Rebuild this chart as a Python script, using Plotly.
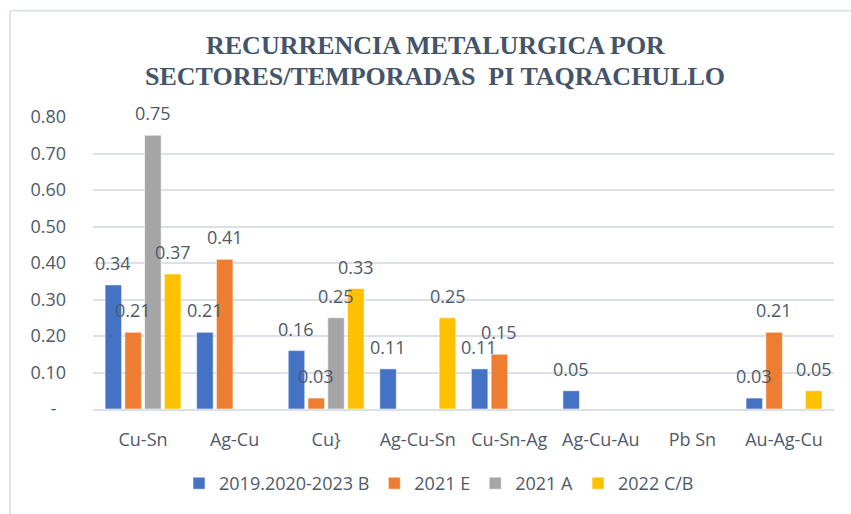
import plotly.graph_objects as go

# Metal combinations (categories)
categorias = ["Cu-Sn", "Ag-Cu", "Cu}", "Ag-Cu-Sn", "Cu-Sn-Ag", "Ag-Cu-Au", "Pb Sn", "Au-Ag-Cu"]

# Recurrence per sector / season
serie_2019_2023_b = [0.34, 0.21, 0.16, 0.11, 0.11, 0.05, 0, 0.03]
serie_2021_e = [0.21, 0.41, 0.03, 0, 0.15, 0, 0, 0.21]
serie_2021_a = [0.75, 0, 0.25, 0, 0, 0, 0, 0]
serie_2022_cb = [0.37, 0, 0.33, 0.25, 0, 0, 0, 0.05]

nombres = ["2019.2020-2023 B", "2021 E", "2021 A", "2022 C/B"]
series = [serie_2019_2023_b, serie_2021_e, serie_2021_a, serie_2022_cb]
colores = ["#4472C4", "#ED7D31", "#A5A5A5", "#FFC000"]

y_ticks = [0, 0.1, 0.2, 0.3, 0.4, 0.5, 0.6, 0.7, 0.8]
y_ticktext = ["-\u00a0\u00a0", "0.10", "0.20", "0.30", "0.40", "0.50", "0.60", "0.70", "0.80"]

titulo = ["RECURRENCIA METALURGICA POR", "SECTORES/TEMPORADAS  PI TAQRACHULLO"]

TEXT = "#4F5A69"
FONT = "Open Sans"
GRID = "#DCE0E8"
TITLE_FONT = dict(family="Liberation Serif", size=26, color="#44546A", weight="bold")

fig = go.Figure()
for nombre, valores, color in zip(nombres, series, colores):
    fig.add_trace(go.Bar(
        name=nombre,
        x=categorias,
        y=valores,
        marker=dict(color=color, line=dict(color="rgba(255,255,255,0.55)", width=1)),
        hoverinfo="x+y+name",
    ))

# Value labels above each non-zero bar, offset to its slot in the group
BARGAP = 0.136
n = len(series)
slot_px = 741 / len(categorias) * (1 - BARGAP) / n
annotations = []
for i, valores in enumerate(series):
    for cat, v in zip(categorias, valores):
        if v > 0:
            annotations.append(dict(
                x=cat, y=v, xref="x", yref="y",
                text=f"{v:.2f}", showarrow=False,
                xshift=(i - (n - 1) / 2) * slot_px, yshift=22,
                yanchor="middle", xanchor="center",
                font=dict(family=FONT, size=18, color=TEXT),
            ))

# Two-line chart title
for linea, y_paper in zip(titulo, [1.245, 1.140]):
    annotations.append(dict(
        x=(435 - 93) / 741, y=y_paper, xref="paper", yref="paper",
        text=linea, showarrow=False, xanchor="center", yanchor="middle",
        font=TITLE_FONT,
    ))

# Light frame along the top and left edges of the chart area
frame = dict(color="#DEE3EC", width=2)
shapes = [
    dict(type="line", xref="paper", yref="paper", x0=-0.112, y0=1.364, x1=1.03, y1=1.364, line=frame),
    dict(type="line", xref="paper", yref="paper", x0=-0.112, y0=1.364, x1=-0.112, y1=-0.36, line=frame),
]

fig.update_layout(
    width=851, height=514,
    margin=dict(l=93, r=17, t=117, b=103),
    paper_bgcolor="white", plot_bgcolor="white",
    barmode="group", bargap=BARGAP, bargroupgap=0.165,
    font=dict(family=FONT, size=18, color=TEXT),
    xaxis=dict(
        showgrid=False, showline=True, linecolor=GRID, linewidth=1.5,
        ticks="", ticklabelstandoff=14,
        tickfont=dict(family=FONT, size=18, color=TEXT),
    ),
    yaxis=dict(
        range=[0, 0.8], tickvals=y_ticks, ticktext=y_ticktext,
        showgrid=True, gridcolor=GRID, gridwidth=1.5,
        zeroline=False, showline=False, ticks="", ticklabelstandoff=26,
        tickfont=dict(family=FONT, size=18, color=TEXT),
    ),
    legend=dict(
        orientation="h", x=(439 - 93) / 741, xanchor="center",
        y=(411 - 486) / 294, yanchor="middle",
        font=dict(family=FONT, size=18, color=TEXT),
        itemwidth=30, traceorder="normal",
    ),
    annotations=annotations,
    shapes=shapes,
    showlegend=True,
)

fig.write_html("out.html")
